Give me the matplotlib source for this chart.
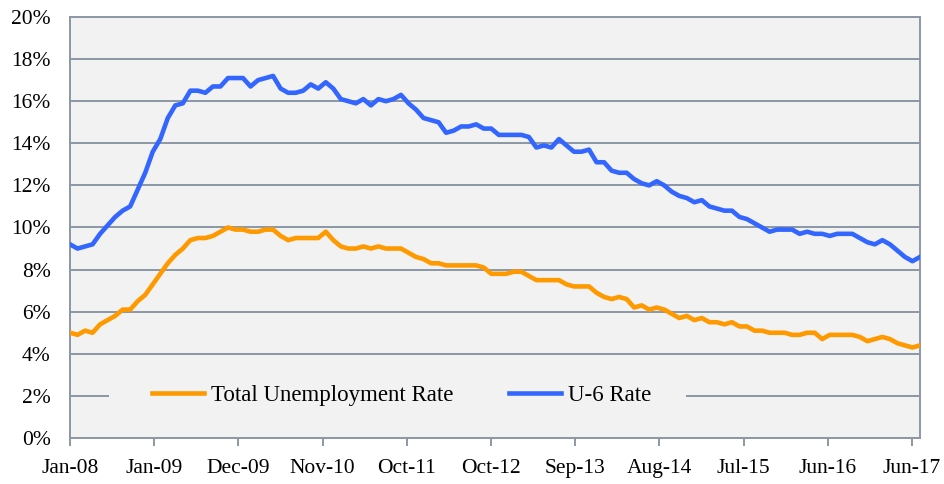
import numpy as np
import matplotlib
matplotlib.use("Agg")
import matplotlib.pyplot as plt
from matplotlib.patches import Rectangle

# monthly values, Jan-08 .. Jun-17 (percent)
total_rate = [
    5.0, 4.9, 5.1, 5.0, 5.4, 5.6, 5.8, 6.1, 6.1, 6.5, 6.8, 7.3,
    7.8, 8.3, 8.7, 9.0, 9.4, 9.5, 9.5, 9.6, 9.8, 10.0, 9.9, 9.9,
    9.8, 9.8, 9.9, 9.9, 9.6, 9.4, 9.5, 9.5, 9.5, 9.5, 9.8, 9.4,
    9.1, 9.0, 9.0, 9.1, 9.0, 9.1, 9.0, 9.0, 9.0, 8.8, 8.6, 8.5,
    8.3, 8.3, 8.2, 8.2, 8.2, 8.2, 8.2, 8.1, 7.8, 7.8, 7.8, 7.9,
    7.9, 7.7, 7.5, 7.5, 7.5, 7.5, 7.3, 7.2, 7.2, 7.2, 6.9, 6.7,
    6.6, 6.7, 6.6, 6.2, 6.3, 6.1, 6.2, 6.1, 5.9, 5.7, 5.8, 5.6,
    5.7, 5.5, 5.5, 5.4, 5.5, 5.3, 5.3, 5.1, 5.1, 5.0, 5.0, 5.0,
    4.9, 4.9, 5.0, 5.0, 4.7, 4.9, 4.9, 4.9, 4.9, 4.8, 4.6, 4.7,
    4.8, 4.7, 4.5, 4.4, 4.3, 4.4,
]
u6_rate = [
    9.2, 9.0, 9.1, 9.2, 9.7, 10.1, 10.5, 10.8, 11.0, 11.8, 12.6, 13.6,
    14.2, 15.2, 15.8, 15.9, 16.5, 16.5, 16.4, 16.7, 16.7, 17.1, 17.1, 17.1,
    16.7, 17.0, 17.1, 17.2, 16.6, 16.4, 16.4, 16.5, 16.8, 16.6, 16.9, 16.6,
    16.1, 16.0, 15.9, 16.1, 15.8, 16.1, 16.0, 16.1, 16.3, 15.9, 15.6, 15.2,
    15.1, 15.0, 14.5, 14.6, 14.8, 14.8, 14.9, 14.7, 14.7, 14.4, 14.4, 14.4,
    14.4, 14.3, 13.8, 13.9, 13.8, 14.2, 13.9, 13.6, 13.6, 13.7, 13.1, 13.1,
    12.7, 12.6, 12.6, 12.3, 12.1, 12.0, 12.2, 12.0, 11.7, 11.5, 11.4, 11.2,
    11.3, 11.0, 10.9, 10.8, 10.8, 10.5, 10.4, 10.2, 10.0, 9.8, 9.9, 9.9,
    9.9, 9.7, 9.8, 9.7, 9.7, 9.6, 9.7, 9.7, 9.7, 9.5, 9.3, 9.2,
    9.4, 9.2, 8.9, 8.6, 8.4, 8.6,
]
tick_labels = ["Jan-08", "Jan-09", "Dec-09", "Nov-10", "Oct-11", "Oct-12",
               "Sep-13", "Aug-14", "Jul-15", "Jun-16", "Jun-17"]

grid_col = "#8C97A6"
plt.rcParams["font.family"] = ["Liberation Serif", "DejaVu Serif"]

fig = plt.figure(figsize=(9.45, 4.84), dpi=100)
ax = fig.add_axes([70 / 945, 1 - 438 / 484, 850 / 945, 421 / 484])
ax.set_facecolor("#F2F2F2")

x = np.arange(len(total_rate))
ax.plot(x, total_rate, color="#FF9900", lw=3.3, label="Total Unemployment Rate", zorder=3)
ax.plot(x, u6_rate, color="#3366FF", lw=3.3, label="U-6 Rate", zorder=3)

ax.set_xlim(0, len(x) - 1)
ax.set_ylim(0, 20)
ax.set_yticks(np.arange(0, 21, 2))
ax.set_yticklabels([f"{v}%" for v in range(0, 21, 2)])
ax.set_xticks(np.linspace(0, (len(x) - 1) * 842 / 850, len(tick_labels)))
ax.set_xticklabels(tick_labels)

ax.grid(axis="y", color=grid_col, lw=1.4)
ax.set_axisbelow(True)
for s in ax.spines.values():
    s.set_color(grid_col)
    s.set_linewidth(1.4)

ax.tick_params(axis="y", length=0, pad=14, labelsize=15.5)
ax.tick_params(axis="x", length=6, width=1.4, color=grid_col, pad=9, labelsize=15.5)

# legend area hides the 2% gridline
ax.add_patch(Rectangle((39 / 850, 0.08), 577 / 850, 0.04, transform=ax.transAxes,
                       facecolor="#F2F2F2", edgecolor="none", zorder=1))
ax.legend(loc="center", bbox_to_anchor=(0.39, 0.1), ncol=2, frameon=False,
          fontsize=16.5, handlelength=2.3, handletextpad=0.3, columnspacing=2.4)

fig.savefig("out.png", dpi=100)
